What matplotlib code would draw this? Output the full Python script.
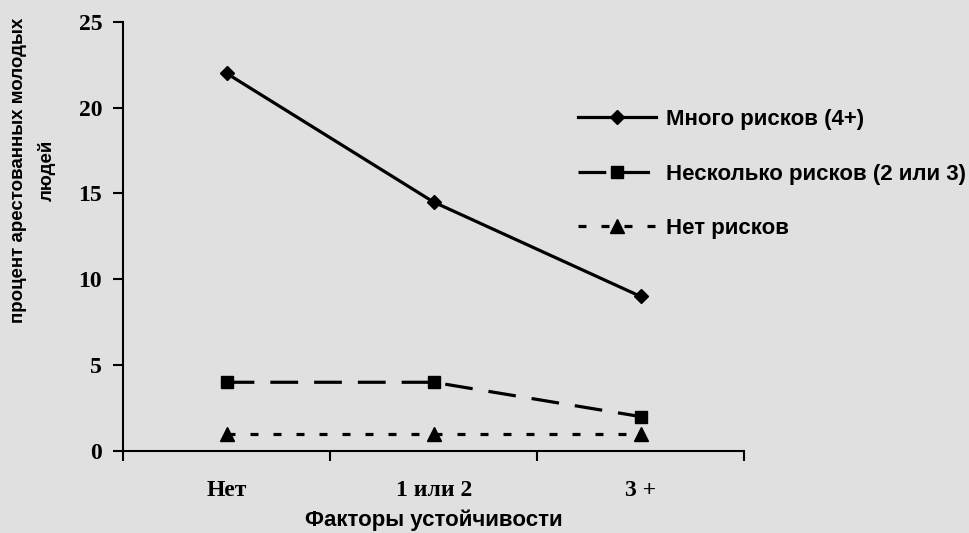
import matplotlib.pyplot as plt
import numpy as np

categories = ['Нет', '1 или 2', '3 +']
many_risks = [22, 14.5, 9]
some_risks = [4, 4, 2]
no_risks = [1, 1, 1]
series_names = ['Много рисков (4+)', 'Несколько рисков (2 или 3)', 'Нет рисков']
yticks = [0, 5, 10, 15, 20, 25]

bg = '#e0e0e0'
fig = plt.figure(figsize=(9.69, 5.33), dpi=100, facecolor=bg)
ax = fig.add_axes([0.127, 0.154, 0.641, 0.805], facecolor=bg)

x = np.arange(len(categories))
ax.plot(x, many_risks, color='black', lw=2.3, marker='D', ms=7, label=series_names[0])
ax.plot(x, some_risks, color='black', lw=2.3, marker='s', ms=9,
        linestyle=(0, (8.7, 5)), label=series_names[1])
ax.plot(x, no_risks, color='black', lw=2.3, marker='^', ms=10,
        linestyle=(0, (2.5, 4.7)), label=series_names[2])

ax.set_xlim(-0.5, len(categories) - 0.5)
ax.set_ylim(0, 25)
ax.set_yticks(yticks)
ax.set_yticklabels([str(v) for v in yticks], fontfamily='Liberation Serif',
                   fontweight='bold', fontsize=17)
ax.set_xticks(np.arange(len(categories) + 1) - 0.5)
ax.set_xticklabels([])
ax.set_xticks(x, minor=True)
ax.set_xticklabels(categories, minor=True, fontfamily='Liberation Serif',
                   fontweight='bold', fontsize=17)
ax.tick_params(axis='x', which='minor', length=0, pad=21)
ax.tick_params(axis='both', which='major', direction='out', length=7, width=1.5)
ax.tick_params(axis='y', pad=8)

for s in ['top', 'right']:
    ax.spines[s].set_visible(False)
for s in ['left', 'bottom']:
    ax.spines[s].set_linewidth(1.5)

ax.set_xlabel('Факторы устойчивости', fontfamily='Liberation Sans',
              fontweight='bold', fontsize=16, labelpad=6)
ax.set_ylabel('процент арестованных молодых\nлюдей', fontfamily='Liberation Sans',
              fontweight='bold', fontsize=13.5, linespacing=1.75)
ax.yaxis.set_label_coords(-0.108, 0.655)

leg = ax.legend(loc='upper left', bbox_to_anchor=(0.5965, 0.795), bbox_transform=fig.transFigure,
                frameon=False, borderpad=0, borderaxespad=0,
                handlelength=3.5, handletextpad=0.45, labelspacing=1.5,
                prop={'family': 'Liberation Sans', 'weight': 'bold', 'size': 16})

fig.savefig('out.png', dpi=100, facecolor=bg)
